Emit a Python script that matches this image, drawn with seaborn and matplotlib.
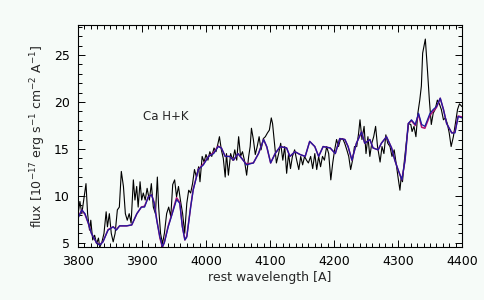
import numpy as np
import pandas as pd
import matplotlib
matplotlib.use("Agg")
import matplotlib.pyplot as plt
from matplotlib.ticker import MultipleLocator
import seaborn as sns

# observed spectrum (black)
obs_wave = [3800, 3803, 3806, 3809, 3812.5, 3815, 3818, 3820, 3823, 3826, 3829, 3832, 3834,
            3837.5, 3840.6, 3844, 3846, 3849, 3852, 3855, 3858, 3861.5, 3864.6, 3867.7, 3871,
            3874, 3877, 3880, 3883, 3886.5, 3889, 3891.7, 3894, 3897, 3899.5, 3902, 3905, 3908,
            3911.5, 3914.6, 3917.7, 3921, 3924, 3926, 3929, 3932, 3935, 3938.5, 3941.7, 3945,
            3948, 3951, 3954, 3957, 3960, 3963.5, 3966.7, 3970, 3973, 3976, 3979, 3982, 3985,
            3988.5, 3990.6, 3994, 3997, 4000, 4003, 4006, 4009, 4012.5, 4015.6, 4018.8, 4021,
            4024, 4027, 4030, 4032, 4035, 4038.5, 4041.7, 4045, 4048, 4051, 4054, 4057, 4060,
            4063.5, 4066.7, 4069, 4071, 4074, 4077, 4080, 4083, 4086, 4089.6, 4092.7, 4096,
            4099, 4102, 4104, 4107, 4110, 4113.5, 4116.7, 4120, 4123, 4126, 4129, 4132, 4135,
            4138.5, 4141.7, 4145, 4148, 4151, 4154, 4157, 4160, 4163.5, 4166.7, 4170, 4173,
            4176, 4179, 4182, 4185, 4188.5, 4191.7, 4195, 4198, 4201, 4204, 4207, 4210, 4213.5,
            4216.7, 4220, 4223, 4226, 4229, 4232, 4235.5, 4238.5, 4240.6, 4243.7, 4247, 4250,
            4253, 4256, 4259, 4262, 4265, 4268, 4272, 4275, 4278, 4281, 4284, 4287.5, 4290.6,
            4294, 4297, 4300, 4303, 4305, 4307, 4310, 4313.5, 4316.7, 4320, 4322, 4325, 4328,
            4331, 4334, 4336.5, 4338.5, 4342.7, 4346, 4349, 4352, 4355, 4358, 4361.5, 4364.6,
            4367.7, 4371, 4374, 4377, 4380, 4383, 4386.5, 4389.6, 4393, 4396, 4400]
obs_flux = [8.0, 9.4, 8.1, 9.55, 11.3, 8.1, 6.35, 7.4, 5.3, 5.8, 4.9, 5.5, 4.5,
            5.1, 6.0, 8.3, 6.7, 8.1, 6.0, 5.1, 6.0, 8.5, 8.8, 12.6, 11.0,
            8.1, 7.4, 8.1, 7.1, 11.7, 9.55, 11.0, 8.8, 11.5, 9.55, 10.3, 9.55, 10.8,
            9.55, 11.3, 8.8, 8.1, 12.0, 8.8, 6.0, 4.9, 6.0, 8.1, 8.8, 7.8,
            11.2, 11.7, 9.9, 11.0, 9.55, 8.1, 6.0, 9.2, 10.6, 10.3, 11.3, 12.8, 12.0,
            13.1, 11.5, 14.2, 13.6, 14.4, 13.8, 14.7, 14.2, 15.1, 14.7, 15.6, 16.3,
            14.9, 14.0, 12.0, 14.5, 12.2, 14.5, 13.8, 14.9, 13.8, 16.3, 14.2, 14.7, 13.8,
            12.2, 14.2, 15.25, 17.2, 16.0, 14.4, 15.25, 16.3, 14.9, 16.1, 16.3, 16.7,
            17.0, 18.3, 17.7, 15.6, 13.5, 14.5, 15.6, 13.8, 15.25, 12.4, 14.5, 12.9, 14.2,
            14.9, 13.8, 12.8, 14.2, 13.3, 14.2, 13.8, 13.5, 14.2, 12.9, 14.5, 12.8,
            14.2, 13.1, 14.2, 13.8, 15.25, 14.5, 11.7, 13.5, 14.9, 16.0, 15.25, 16.0, 16.1,
            15.6, 14.9, 14.2, 12.8, 13.8, 15.25, 15.25, 16.7, 18.1, 16.0, 17.4, 14.5,
            16.3, 14.2, 15.6, 16.3, 17.4, 15.25, 13.6, 15.25, 14.5, 16.5, 15.6, 15.25, 14.2,
            14.9, 13.5, 12.0, 10.6, 12.0, 11.5, 13.8, 16.0, 17.7, 17.6, 16.85, 17.4, 16.3,
            18.8, 20.2, 21.7, 25.2, 26.7, 23.4, 20.2, 17.6, 18.8, 19.2, 20.2, 19.8,
            19.2, 18.1, 18.3, 17.7, 16.7, 15.25, 16.3, 17.7, 19.2, 19.8, 19.5]

# model spectra (blue on top of red)
model_wave = [3800, 3806, 3811, 3816, 3821, 3829, 3834, 3839, 3847, 3855, 3860, 3865, 3876,
              3884, 3892, 3899, 3904, 3910, 3915, 3919, 3923, 3928, 3932, 3935, 3941, 3946,
              3954, 3959, 3963, 3967, 3970, 3976, 3980, 3988, 3996, 4004, 4012, 4019, 4024,
              4030, 4037, 4043, 4050, 4058, 4063, 4074, 4082, 4090, 4095, 4101, 4108, 4116,
              4126, 4131, 4139, 4147, 4155, 4162, 4170, 4176, 4183, 4194, 4202, 4209, 4217,
              4222, 4228, 4235, 4243, 4248, 4256, 4261, 4269, 4274, 4282, 4290, 4295, 4300,
              4306, 4311, 4316, 4321, 4327, 4332, 4337, 4342, 4350, 4355, 4360, 4366, 4371,
              4376, 4384, 4389, 4394, 4400]
blue_flux = [7.6, 8.5, 8.1, 7.1, 6.0, 5.0, 4.75, 5.1, 6.35, 6.7, 6.35, 6.8, 6.8,
             6.9, 8.1, 8.8, 8.8, 9.9, 10.1, 9.2, 7.4, 5.6, 4.6, 5.0, 6.7, 7.8,
             9.6, 9.2, 6.7, 5.3, 5.6, 8.8, 10.6, 12.8, 13.3, 14.2, 14.5, 15.25, 15.1,
             14.2, 14.2, 13.8, 14.5, 13.8, 13.3, 13.5, 14.5, 16.0, 15.25, 13.5, 14.5, 15.25,
             15.1, 14.2, 14.7, 14.4, 14.2, 15.8, 15.25, 14.2, 15.25, 15.1, 14.5, 16.1, 16.0,
             15.25, 13.8, 15.6, 16.8, 15.6, 16.0, 15.1, 14.9, 15.6, 16.3, 15.1, 13.8, 12.8,
             11.7, 13.8, 17.7, 18.1, 17.6, 18.8, 17.6, 17.4, 18.8, 19.2, 19.5, 20.4, 19.2,
             17.7, 16.7, 16.7, 18.45, 18.3]
red_flux = [7.7, 8.5, 8.0, 7.1, 6.0, 5.0, 4.8, 5.1, 6.4, 6.7, 6.4, 6.8, 6.8,
            6.9, 8.1, 8.8, 8.9, 9.9, 10.1, 9.3, 7.5, 5.5, 4.5, 5.1, 6.8, 7.9,
            9.8, 9.3, 6.8, 5.3, 5.7, 8.8, 10.7, 12.8, 13.4, 14.2, 14.6, 15.3, 15.1,
            14.2, 14.2, 13.8, 14.5, 13.8, 13.4, 13.5, 14.5, 16.0, 15.2, 13.5, 14.5, 15.25,
            15.1, 14.2, 14.7, 14.4, 14.2, 15.8, 15.25, 14.2, 15.25, 15.1, 14.5, 16.1, 16.0,
            15.25, 13.8, 15.6, 16.8, 15.6, 16.0, 15.1, 14.9, 15.6, 16.3, 15.1, 13.8, 12.8,
            11.7, 13.8, 17.7, 18.0, 17.5, 18.7, 17.3, 17.2, 18.6, 19.0, 19.4, 20.4, 19.2,
            17.7, 16.7, 16.8, 18.5, 18.4]

label_text = "Ca H+K"
label_pos = (3901, 18.4)

bg = "#f6fbf8"
sns.set_style("ticks")
plt.rcParams["font.family"] = ["DejaVu Sans"]
plt.rcParams["font.size"] = 9

obs_df = pd.DataFrame({"wave": obs_wave, "flux": obs_flux})
mod_df = pd.DataFrame({"wave": model_wave, "blue": blue_flux, "red": red_flux})

fig = plt.figure(figsize=(4.85, 3.0), dpi=100, facecolor=bg)
ax = fig.add_axes([0.1608, 0.1767, 0.7918, 0.74])
ax.set_facecolor(bg)

sns.lineplot(data=obs_df, x="wave", y="flux", ax=ax, color="black", lw=0.8,
             estimator=None, sort=False)
sns.lineplot(data=mod_df, x="wave", y="red", ax=ax, color="#b01070", lw=1.1,
             estimator=None, sort=False)
sns.lineplot(data=mod_df, x="wave", y="blue", ax=ax, color="#1c1ca0", lw=0.9,
             estimator=None, sort=False)

ax.text(label_pos[0], label_pos[1], label_text, fontsize=8.5, va="center", ha="left")

ax.set_xlim(3800, 4400)
ax.set_ylim(4.55, 28.2)
ax.xaxis.set_major_locator(MultipleLocator(100))
ax.xaxis.set_minor_locator(MultipleLocator(10))
ax.yaxis.set_major_locator(MultipleLocator(5))
ax.yaxis.set_minor_locator(MultipleLocator(1))
ax.tick_params(which="both", direction="in", top=True, right=True, colors="black",
               labelsize=9, width=0.7)
ax.tick_params(which="major", length=5, pad=6)
ax.tick_params(which="minor", length=2.7)
for s in ax.spines.values():
    s.set_color("black")
    s.set_linewidth(0.8)

ax.set_xlabel("rest wavelength [A]", fontsize=9, labelpad=2)
ax.set_ylabel(r"flux [10$^{-17}$ erg s$^{-1}$ cm$^{-2}$ A$^{-1}$]", fontsize=9, labelpad=4)

fig.savefig("out.png", dpi=100, facecolor=bg)
